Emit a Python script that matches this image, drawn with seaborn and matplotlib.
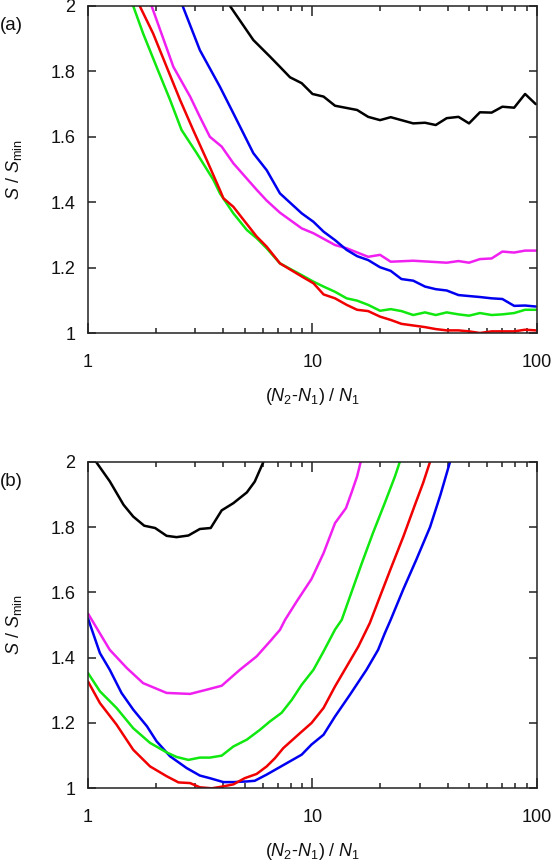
import numpy as np
import pandas as pd
import matplotlib
matplotlib.use("Agg")
import matplotlib.pyplot as plt
import seaborn as sns
from matplotlib.ticker import LogLocator, NullFormatter, FixedLocator, FixedFormatter

# ---------------- data: panel (a) ----------------
a_black_x = [4.29, 5.45, 6.47, 7.16, 7.94, 8.95, 10.0, 11.2, 12.6, 15.8, 17.7, 20.0, 22.3, 28.1, 31.7,
             35.4, 39.6, 44.7, 49.8, 55.7, 62.8, 70.1, 79.1, 88.5, 98.7]
a_black_y = [2.0, 1.896, 1.845, 1.814, 1.782, 1.764, 1.731, 1.723, 1.695, 1.682, 1.661, 1.651, 1.660,
             1.641, 1.643, 1.636, 1.657, 1.661, 1.641, 1.675, 1.674, 1.692, 1.689, 1.731, 1.700]

a_magenta_x = [1.92, 2.40, 2.85, 3.15, 3.49, 3.94, 4.44, 5.10, 5.64, 6.25, 7.16, 8.95, 10.1, 12.6, 14.2,
               17.7, 20.0, 22.3, 28.1, 39.6, 44.7, 49.8, 55.7, 62.8, 70.1, 79.1, 88.5, 98.7]
a_magenta_y = [2.0, 1.814, 1.723, 1.661, 1.600, 1.570, 1.519, 1.472, 1.438, 1.405, 1.368, 1.320, 1.305,
               1.269, 1.259, 1.233, 1.239, 1.218, 1.221, 1.215, 1.220, 1.215, 1.226, 1.228, 1.249, 1.246,
               1.252, 1.252]

a_blue_x = [2.64, 3.15, 3.87, 4.44, 5.45, 6.25, 7.16, 8.95, 10.1, 11.2, 12.6, 14.2, 15.8, 17.7, 20.0,
            22.3, 24.9, 28.1, 31.7, 35.4, 39.6, 44.7, 49.8, 55.7, 62.8, 70.1, 79.1, 88.5, 98.7]
a_blue_y = [2.0, 1.865, 1.753, 1.672, 1.550, 1.498, 1.427, 1.366, 1.340, 1.310, 1.284, 1.254, 1.235,
            1.223, 1.201, 1.190, 1.165, 1.160, 1.142, 1.134, 1.130, 1.116, 1.113, 1.110, 1.106, 1.104,
            1.083, 1.084, 1.081]

a_green_x = [1.59, 1.76, 2.02, 2.32, 2.61, 3.05, 3.62, 3.87, 4.44, 5.10, 5.64, 6.25, 7.16, 8.95, 10.1,
             11.2, 12.6, 14.2, 15.8, 17.7, 20.0, 22.3, 24.9, 28.1, 31.7, 35.4, 39.6, 44.7, 49.8, 55.7,
             62.8, 70.1, 79.1, 88.5, 98.7]
a_green_y = [2.0, 1.916, 1.814, 1.713, 1.621, 1.550, 1.468, 1.427, 1.366, 1.315, 1.290, 1.259, 1.213,
             1.177, 1.157, 1.142, 1.126, 1.106, 1.099, 1.086, 1.068, 1.073, 1.067, 1.055, 1.063, 1.055,
             1.063, 1.057, 1.053, 1.061, 1.055, 1.057, 1.061, 1.071, 1.071]

a_red_x = [1.70, 1.95, 2.24, 2.57, 2.94, 3.38, 3.87, 4.01, 4.44, 4.93, 5.64, 6.25, 7.16, 8.95, 10.1,
           11.2, 12.6, 14.2, 15.8, 17.7, 20.0, 22.3, 24.9, 28.1, 31.7, 35.4, 39.6, 44.7, 49.8, 55.7,
           62.8, 70.1, 79.1, 88.5, 98.7]
a_red_y = [2.0, 1.916, 1.814, 1.713, 1.621, 1.529, 1.437, 1.412, 1.386, 1.346, 1.295, 1.264, 1.213,
           1.173, 1.152, 1.118, 1.106, 1.086, 1.071, 1.067, 1.050, 1.040, 1.028, 1.023, 1.018, 1.012,
           1.008, 1.008, 1.005, 1.000, 1.005, 1.005, 1.005, 1.010, 1.008]

# ---------------- data: panel (b) ----------------
b_black_x = [1.085, 1.25, 1.44, 1.59, 1.78, 1.99, 2.24, 2.48, 2.80, 3.15, 3.52, 3.94, 4.44, 5.10, 5.53, 6.05]
b_black_y = [2.0, 1.940, 1.868, 1.832, 1.804, 1.797, 1.773, 1.769, 1.774, 1.794, 1.797, 1.851, 1.873,
             1.906, 1.939, 2.0]

b_magenta_x = [1.0, 1.25, 1.49, 1.76, 2.24, 2.85, 3.38, 3.94, 4.75, 5.64, 6.47, 7.16, 7.55, 8.5, 9.9,
               11.2, 12.6, 14.1, 14.9, 15.8, 16.4]
b_magenta_y = [1.535, 1.424, 1.368, 1.322, 1.292, 1.289, 1.302, 1.314, 1.363, 1.404, 1.450, 1.485,
               1.516, 1.572, 1.641, 1.720, 1.812, 1.858, 1.904, 1.955, 2.0]

b_green_x = [1.0, 1.13, 1.34, 1.59, 1.89, 2.24, 2.48, 2.80, 3.15, 3.49, 3.94, 4.44, 5.10, 5.83, 6.47,
             7.28, 8.09, 8.95, 10.1, 11.2, 12.6, 13.5, 14.7, 16.6, 18.6, 21.0, 23.3, 24.5]
b_green_y = [1.353, 1.297, 1.246, 1.184, 1.139, 1.110, 1.096, 1.087, 1.094, 1.094, 1.100, 1.128, 1.149,
             1.179, 1.205, 1.231, 1.271, 1.317, 1.363, 1.419, 1.486, 1.516, 1.588, 1.690, 1.782, 1.874,
             1.955, 2.0]

b_red_x = [1.0, 1.13, 1.34, 1.59, 1.89, 2.24, 2.53, 2.85, 3.15, 3.56, 3.94, 4.44, 4.99, 5.64, 6.25,
           6.8, 7.41, 8.8, 9.9, 11.2, 12.6, 14.2, 16.0, 18.0, 20.0, 22.5, 25.4, 28.6, 31.1, 33.4]
b_red_y = [1.327, 1.261, 1.195, 1.118, 1.067, 1.037, 1.018, 1.016, 1.003, 1.000, 1.005, 1.012, 1.031,
           1.044, 1.067, 1.092, 1.123, 1.169, 1.200, 1.246, 1.312, 1.373, 1.434, 1.506, 1.588, 1.679,
           1.771, 1.868, 1.935, 2.0]

b_blue_x = [1.0, 1.13, 1.25, 1.41, 1.59, 1.83, 2.02, 2.32, 2.75, 3.15, 3.49, 4.01, 4.44, 5.10, 5.53,
            6.25, 7.68, 8.95, 9.9, 11.2, 12.6, 14.7, 17.4, 19.6, 21.0, 22.3, 25.4, 29.0, 33.4, 37.2,
            41.0]
b_blue_y = [1.52, 1.414, 1.363, 1.292, 1.241, 1.190, 1.144, 1.098, 1.062, 1.039, 1.031, 1.019, 1.019,
            1.021, 1.023, 1.042, 1.077, 1.103, 1.134, 1.164, 1.220, 1.287, 1.363, 1.424, 1.475, 1.516,
            1.610, 1.700, 1.800, 1.900, 2.0]

series_names = ["black", "magenta", "blue", "green", "red"]
series_colors = {"black": "#000000", "magenta": "#f020f0", "blue": "#0000f0",
                 "green": "#10e810", "red": "#f00000"}

y_ticks = [1.0, 1.2, 1.4, 1.6, 1.8, 2.0]
y_ticklabels = ["1", "1.2", "1.4", "1.6", "1.8", "2"]
x_ticks = [1, 10, 100]
x_ticklabels = ["1", "10", "100"]


def make_df(data):
    rows = []
    for name, (xs, ys) in data.items():
        for i, (xv, yv) in enumerate(zip(xs, ys)):
            rows.append({"x": xv, "y": yv, "series": name, "idx": i})
    return pd.DataFrame(rows)


df_a = make_df({"black": (a_black_x, a_black_y), "magenta": (a_magenta_x, a_magenta_y),
                "blue": (a_blue_x, a_blue_y), "green": (a_green_x, a_green_y),
                "red": (a_red_x, a_red_y)})
df_b = make_df({"black": (b_black_x, b_black_y), "magenta": (b_magenta_x, b_magenta_y),
                "blue": (b_blue_x, b_blue_y), "green": (b_green_x, b_green_y),
                "red": (b_red_x, b_red_y)})

sns.set_style("ticks")
plt.rcParams["font.family"] = ["Liberation Sans", "DejaVu Sans"]
plt.rcParams["mathtext.fontset"] = "custom"
plt.rcParams["mathtext.rm"] = "Liberation Sans"
plt.rcParams["mathtext.it"] = "Liberation Sans:italic"
plt.rcParams["mathtext.bf"] = "Liberation Sans:bold"

W, H = 555, 863
fig = plt.figure(figsize=(W / 100, H / 100), dpi=100)

ax_left = 88 / W
ax_w = (537 - 88) / W
ax_a = fig.add_axes([ax_left, 1 - 333 / H, ax_w, (333 - 6) / H])
ax_b = fig.add_axes([ax_left, 1 - 788.3 / H, ax_w, (788.3 - 461.7) / H])

for ax, df, lab, ly in [(ax_a, df_a, "(a)", 1 - 26 / H), (ax_b, df_b, "(b)", 1 - 481 / H)]:
    sns.lineplot(data=df, x="x", y="y", hue="series", hue_order=series_names,
                 palette=series_colors, sort=False, estimator=None, units="series",
                 linewidth=1.8, legend=False, ax=ax)
    ax.set_xscale("log")
    ax.set_xlim(1, 100)
    ax.set_ylim(1, 2)
    ax.yaxis.set_major_locator(FixedLocator(y_ticks))
    ax.yaxis.set_major_formatter(FixedFormatter(y_ticklabels))
    ax.xaxis.set_major_locator(FixedLocator(x_ticks))
    ax.xaxis.set_major_formatter(FixedFormatter(x_ticklabels))
    ax.xaxis.set_minor_locator(LogLocator(base=10, subs=np.arange(2, 10)))
    ax.xaxis.set_minor_formatter(NullFormatter())
    ax.tick_params(axis="both", which="both", direction="in", top=True, right=True,
                   width=1.1, color="#222222", labelsize=13, labelcolor="#111111")
    ax.tick_params(axis="x", which="major", length=7, pad=15)
    ax.tick_params(axis="x", which="minor", length=3.8)
    ax.tick_params(axis="y", which="major", length=6, pad=9)
    for sp in ax.spines.values():
        sp.set_linewidth(1.1)
        sp.set_color("#222222")
        sp.set_visible(True)
    ax.set_xlabel(r"($\mathit{N}_2$-$\mathit{N}_1$) / $\mathit{N}_1$", fontsize=13, labelpad=11,
                  color="#111111")
    ax.set_ylabel(r"$\mathit{S}$ / $\mathit{S}_{\rm min}$", fontsize=13, labelpad=19, color="#111111")
    fig.text(0.0, ly, lab, fontsize=13.5, ha="left", va="center", color="#111111")

fig.savefig("out.png", dpi=100)
